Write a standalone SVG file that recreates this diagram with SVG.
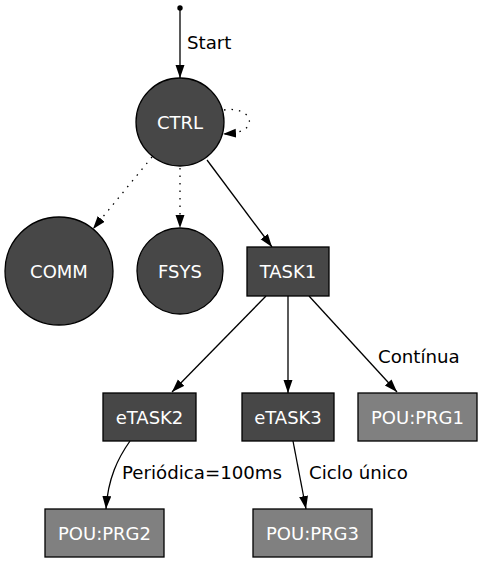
<svg xmlns="http://www.w3.org/2000/svg" width="482" height="562" viewBox="0 0 482 562">
<defs>
<marker id="arr" markerUnits="userSpaceOnUse" markerWidth="14" markerHeight="10" refX="13" refY="4.5" orient="auto">
<path d="M0,0 L13,4.5 L0,9 z" fill="#000"/>
</marker>
<style>
.n{fill:#474747;stroke:#000;stroke-width:1.3}
.p{fill:#808080;stroke:#000;stroke-width:1.3}
.t{font-family:"DejaVu Sans",sans-serif;font-size:18px;fill:#fff;text-anchor:middle}
.l{font-family:"DejaVu Sans",sans-serif;font-size:18.2px;fill:#000}
.e{fill:none;stroke:#000;stroke-width:1.3;marker-end:url(#arr)}
.d{stroke-dasharray:1.5,6}
</style>
</defs>
<rect width="482" height="562" fill="#fff"/>
<g id="edges">
<circle cx="180" cy="8" r="2.7" fill="#000"/>
<path class="e" d="M180,8 L180,78"/>
<text class="l" x="187" y="49">Start</text>
<path class="e d" d="M224,110 C240,107 254,116 248,126 C245,131 238,133 223,134"/>
<path class="e d" d="M152,157 L93,229"/>
<path class="e d" d="M180,168 L180,228"/>
<path class="e" d="M207,160 L272,247"/>
<path class="e" d="M266,296 L172,392"/>
<path class="e" d="M288,296 L288,393"/>
<path class="e" d="M309,296 L397,392"/>
<text class="l" x="378" y="363">Contínua</text>
<path class="e" d="M130,441 C118,458 108,478 106,509"/>
<text class="l" x="122" y="479">Periódica=100ms</text>
<path class="e" d="M293,441 L306,509"/>
<text class="l" x="309" y="479">Ciclo único</text>
</g>
<g id="CTRL"><circle class="n" cx="180" cy="122" r="44"/><text class="t" x="180" y="128.5">CTRL</text></g>
<g id="COMM"><circle class="n" cx="59" cy="271" r="54"/><text class="t" x="59" y="277.5">COMM</text></g>
<g id="FSYS"><circle class="n" cx="180" cy="271" r="43"/><text class="t" x="180" y="277.5">FSYS</text></g>
<g id="TASK1"><rect class="n" x="247" y="247" width="82" height="49"/><text class="t" x="288" y="278">TASK1</text></g>
<g id="eTASK2"><rect class="n" x="103" y="393" width="93" height="48"/><text class="t" x="149.5" y="423.5">eTASK2</text></g>
<g id="eTASK3"><rect class="n" x="242" y="393" width="92" height="48"/><text class="t" x="288" y="423.5">eTASK3</text></g>
<g id="PRG1"><rect class="p" x="358" y="393" width="119" height="48"/><text class="t" x="417.5" y="423.5">POU:PRG1</text></g>
<g id="PRG2"><rect class="p" x="45" y="509" width="119" height="48"/><text class="t" x="104.5" y="539.5">POU:PRG2</text></g>
<g id="PRG3"><rect class="p" x="253" y="509" width="119" height="48"/><text class="t" x="312.5" y="539.5">POU:PRG3</text></g>
</svg>
